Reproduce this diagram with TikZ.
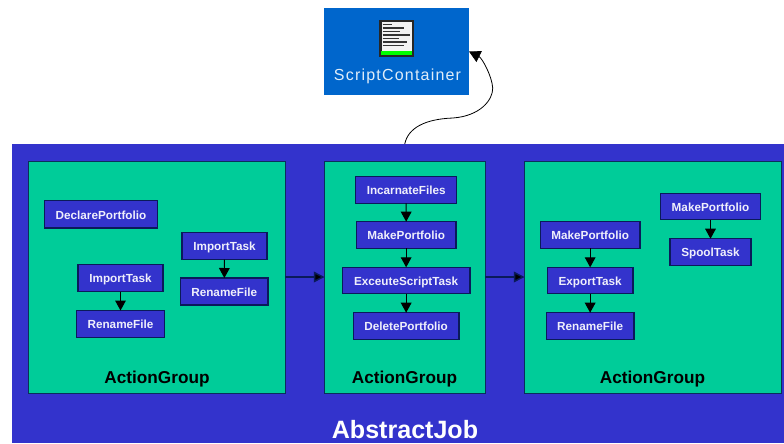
\documentclass[tikz,border=0pt]{standalone}
\usepackage{fontspec}
\setmainfont{Liberation Sans}
\newfontfamily\sclabel[LetterSpace=7.5]{Liberation Sans}
\usetikzlibrary{arrows.meta}
\definecolor{jobblue}{HTML}{3333CC}
\definecolor{groupgreen}{HTML}{00CC99}
\definecolor{scriptblue}{HTML}{0066CC}
\definecolor{edgenavy}{HTML}{0A1A5A}
\definecolor{edgeteal}{HTML}{0A2F5A}
\newcommand{\boxnode}[7][]{%
  \node[#1, minimum width={(#5-#3)*0.75pt}, minimum height={(#6-#4)*0.75pt}] (#2) at ({(#3+#5)/2},{(#4+#6)/2}) {#7};}
\tikzset{
  base/.style={rectangle, inner sep=0pt, outer sep=0pt},
  jobbox/.style={base, fill=jobblue},
  groupbox/.style={base, fill=groupgreen, draw=edgeteal, line width=0.75pt},
  taskbox/.style={base, fill=jobblue, draw=edgenavy, line width=0.8pt, text=white!92!jobblue, text height=7.3pt, text depth=0pt, font=\fontsize{8.8}{10}\selectfont\bfseries},
  scriptbox/.style={base, fill=scriptblue},
  grouplabel/.style={inner sep=0pt, text height=9.24pt, text depth=0pt, font=\fontsize{12.9}{15}\selectfont\bfseries, text=black},
  flow/.style={-{Triangle[length=7.5pt,width=8pt]}, line width=0.8pt, draw=black},
  groupflow/.style={-{Triangle[length=8pt,width=8pt,fill=black]}, line width=1.1pt, draw=edgenavy},
  ref/.style={-{Triangle[length=8.5pt,width=9pt]}, line width=0.6pt, draw=black}
}
\begin{document}
\begin{tikzpicture}[x=0.75pt,y=-0.75pt]
\useasboundingbox (0,0) rectangle (784,443);
\fill[white] (0,0) rectangle (784,443);
\boxnode[jobbox]{job}{12}{144}{784}{443}{}
\boxnode[scriptbox]{script}{324}{8}{469}{95}{}
% icon
\fill[black!85] (379.3,20) rectangle (413.7,56.7);
\fill[white!95!black] (381.5,22) rectangle (411.5,50.5);
\fill[green] (381,51) rectangle (412,55);
\foreach \ly/\lx in {24.2/391.5,27.8/403.5,31.3/400,34.8/410,38.3/398.5,41.8/406.5,45.3/403.5}
  \draw[black!80,line width=1.05pt] (382.7,\ly) -- (\lx,\ly);
\node[inner sep=0pt, text height=8.6pt, text depth=0pt, text=white!88!scriptblue, font=\fontsize{12}{14}\sclabel] (sclab) at (397.5,75) {ScriptContainer};
% groups
\boxnode[groupbox]{g1}{28.5}{161}{285}{393}{}
\boxnode[groupbox]{g2}{324.5}{161}{485}{393}{}
\boxnode[groupbox]{g3}{524.5}{161}{781}{393}{}
\node[grouplabel] (l1) at (157,377) {ActionGroup};
\node[grouplabel] (l2) at (404.5,377) {ActionGroup};
\node[grouplabel] (l3) at (652.5,377) {ActionGroup};
\node[inner sep=0pt, text height=13.5pt, text depth=0pt, text=white, font=\fontsize{18.8}{22}\selectfont\bfseries] (jl) at (405,429) {AbstractJob};
% group 1
\boxnode[taskbox]{a1}{44.5}{200.5}{157.5}{228}{DeclarePortfolio}
\boxnode[taskbox]{a2}{182}{232.5}{267}{259.5}{ImportTask}
\boxnode[taskbox]{a3}{180.5}{278}{268}{305}{RenameFile}
\boxnode[taskbox]{a4}{78}{264.5}{163}{291.5}{ImportTask}
\boxnode[taskbox]{a5}{76.5}{310.5}{164.5}{337.5}{RenameFile}
% group 2
\boxnode[taskbox]{b1}{355.7}{176.7}{456.7}{203.3}{IncarnateFiles}
\boxnode[taskbox]{b2}{356.3}{221.7}{456}{248.3}{MakePortfolio}
\boxnode[taskbox]{b3}{342.3}{267.3}{470}{293.7}{ExceuteScriptTask}
\boxnode[taskbox]{b4}{353.3}{312.7}{459}{339.3}{DeletePortfolio}
% group 3
\boxnode[taskbox]{c1}{540.3}{221.7}{640}{248.3}{MakePortfolio}
\boxnode[taskbox]{c2}{547.3}{267.3}{633}{293.7}{ExportTask}
\boxnode[taskbox]{c3}{546.3}{312.7}{634}{339.3}{RenameFile}
\boxnode[taskbox]{c4}{660.3}{193.3}{760.7}{219.7}{MakePortfolio}
\boxnode[taskbox]{c5}{670}{238.7}{751}{265.3}{SpoolTask}
% connectors
\draw[flow] (a2) -- (a3);
\draw[flow] (a4) -- (a5);
\draw[flow] (b1) -- (b2);
\draw[flow] (b2) -- (b3);
\draw[flow] (b3) -- (b4);
\draw[flow] (c1) -- (c2);
\draw[flow] (c2) -- (c3);
\draw[flow] (c4) -- (c5);
\draw[groupflow] (g1) -- (g2);
\draw[groupflow] (g2) -- (g3);
\draw[ref] (g2 |- job.north) .. controls (408,128) and (425,119) .. (453,118)
  .. controls (480,116) and (493,100) .. (492.7,88)
  .. controls (492,76) and (482,58) .. (script.east);
\end{tikzpicture}
\end{document}
